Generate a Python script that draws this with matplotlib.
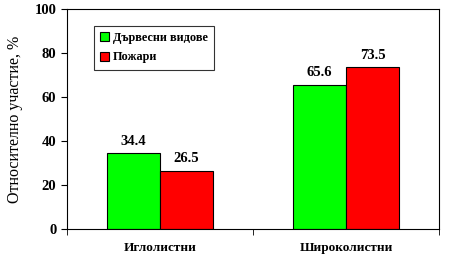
import numpy as np
import matplotlib.pyplot as plt

categories = ['Иглолистни', 'Широколистни']
series_names = ['Дървесни видове', 'Пожари']
trees = [34.4, 65.6]
fires = [26.5, 73.5]

plt.rcParams['font.family'] = ['Liberation Serif', 'DejaVu Serif']

fig = plt.figure(figsize=(4.49, 2.58), dpi=100)
ax = fig.add_axes([0.149, 0.112, 0.829, 0.853])

x = np.arange(len(categories))
w = 0.285
b1 = ax.bar(x - w / 2, trees, w, color='#00FF00', edgecolor='black', linewidth=0.8, label=series_names[0])
b2 = ax.bar(x + w / 2, fires, w, color='#FF0000', edgecolor='black', linewidth=0.8, label=series_names[1])

for bars, vals in ((b1, trees), (b2, fires)):
    for r, v in zip(bars, vals):
        ax.text(r.get_x() + r.get_width() / 2, v + 2.5, f'{v:.1f}', ha='center', va='bottom',
                fontsize=10.5, fontweight='bold')

ax.set_xlim(-0.5, 1.5)
ax.set_ylim(0, 100)
ax.set_yticks(range(0, 101, 20))
ax.set_xticks(x)
ax.set_xticklabels(categories, fontweight='bold', fontsize=9.5)
ax.tick_params(axis='x', length=0, pad=9)
ax.set_xticks([-0.5, 0.5, 1.5], minor=True)
ax.tick_params(axis='x', which='minor', length=4, direction='out')
ax.tick_params(axis='y', length=4, direction='out', labelsize=10.5, width=0.8)
for t in ax.get_yticklabels():
    t.set_fontweight('bold')
ax.set_ylabel('Относително участие, %', fontsize=11.5, labelpad=8)

for s in ax.spines.values():
    s.set_linewidth(0.8)

leg = ax.legend(loc='upper left', bbox_to_anchor=(0.073, 0.923), borderaxespad=0, frameon=True,
                fancybox=False, edgecolor='black', prop={'weight': 'bold', 'size': 8.8},
                handlelength=0.75, handleheight=0.75, handletextpad=0.3, borderpad=0.5, labelspacing=0.6)
leg.get_frame().set_linewidth(0.8)

fig.savefig('out.png', dpi=100)
